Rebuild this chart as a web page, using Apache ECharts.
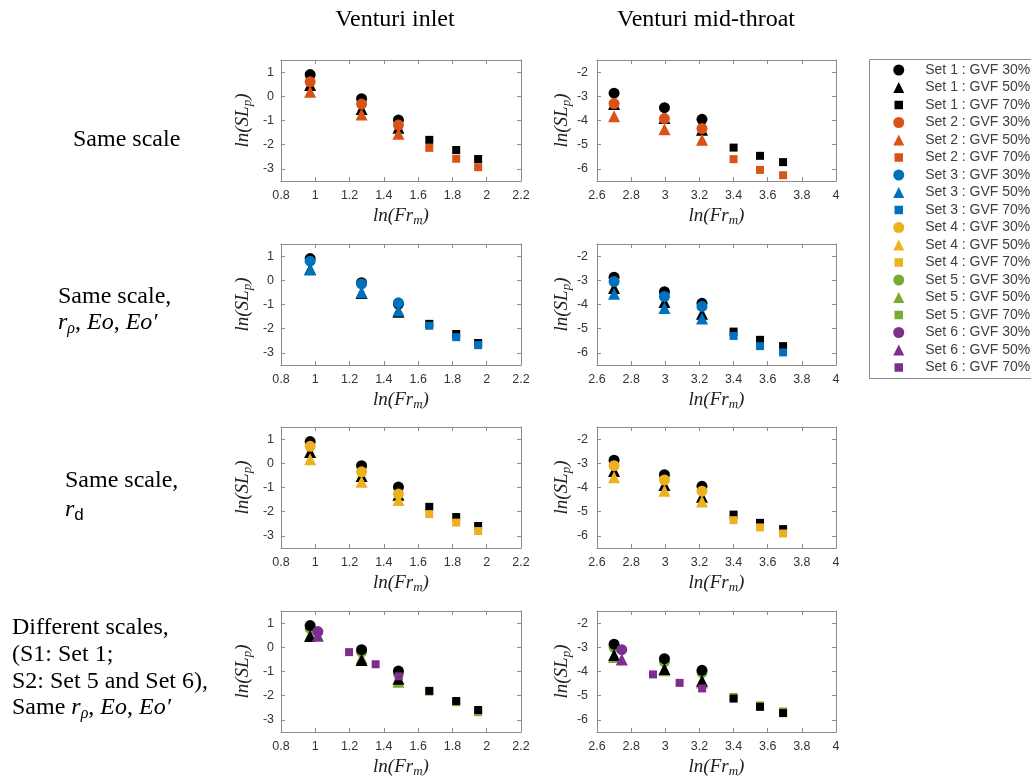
<!DOCTYPE html>
<html>
<head>
<meta charset="utf-8">
<title>ln(SLp) vs ln(Frm)</title>
<script src="https://cdn.jsdelivr.net/npm/echarts@6/dist/echarts.min.js"></script>
<style>
  html, body { margin: 0; padding: 0; background: #fff; }
  #chart { width: 1031px; height: 780px; }
</style>
</head>
<body>
<div id="chart"></div>
<script>
// ln(Fr_m) positions
const inletFr = [0.97, 1.27, 1.485];
const inletFr70 = [1.665, 1.822, 1.95];
const throatFr = [2.70, 2.995, 3.215];
const throatFr70 = [3.40, 3.555, 3.69];
const set6InletFr = [1.015];
const set6InletFr70 = [1.197, 1.352, 1.487];
const set6ThroatFr = [2.745];
const set6ThroatFr70 = [2.928, 3.084, 3.216];

// ln(SL_p) for each set: [GVF 30%, GVF 50%, GVF 70%]
const set1Inlet = [[0.9, -0.1, -0.98], [0.47, -0.52, -1.3], [-1.8, -2.22, -2.59]];
const set1Throat = [[-2.87, -3.47, -3.95], [-3.32, -3.9, -4.38], [-5.12, -5.46, -5.72]];
const set2Inlet = [[0.6, -0.32, -1.19], [0.19, -0.75, -1.55], [-2.13, -2.58, -2.93]];
const set2Throat = [[-3.3, -3.92, -4.33], [-3.82, -4.36, -4.8], [-5.6, -6.04, -6.26]];
const set3Inlet = [[0.79, -0.15, -0.93], [0.45, -0.49, -1.25], [-1.88, -2.35, -2.68]];
const set3Throat = [[-3.05, -3.67, -4.08], [-3.56, -4.14, -4.58], [-5.3, -5.72, -5.98]];
const set4Inlet = [[0.7, -0.35, -1.27], [0.17, -0.76, -1.52], [-2.1, -2.45, -2.8]];
const set4Throat = [[-3.1, -3.69, -4.15], [-3.58, -4.13, -4.58], [-5.35, -5.65, -5.9]];
const set5Inlet = [[0.78, -0.2, -1.1], [0.5, -0.45, -1.42], [-1.83, -2.27, -2.68]];
const set5Throat = [[-3.0, -3.6, -4.05], [-3.4, -3.95, -4.45], [-5.05, -5.4, -5.65]];
const set6Inlet = [[0.65], [0.48], [-0.2, -0.7, -1.2]];
const set6Throat = [[-3.1], [-3.5], [-4.12, -4.47, -4.7]];

const gvfLabels = ['30%', '50%', '70%'];
const columnTitles = ['Venturi inlet', 'Venturi mid-throat'];
// which sets are drawn in each row (drawing order)
const rowSets = [[1, 2], [1, 3], [1, 4], [5, 1, 6]];

const setColors = ['#000000', '#D95319', '#0072BD', '#EDB120', '#77AC30', '#7E2F8E'];
const gvfSymbols = ['circle', 'triangle', 'rect'];
const gvfSizes = [11, 12, 8];

const setValues = {
  1: [set1Inlet, set1Throat], 2: [set2Inlet, set2Throat], 3: [set3Inlet, set3Throat],
  4: [set4Inlet, set4Throat], 5: [set5Inlet, set5Throat], 6: [set6Inlet, set6Throat]
};

function frFor(set, col, g) {
  if (set === 6) {
    if (col === 0) return g === 2 ? set6InletFr70 : set6InletFr;
    return g === 2 ? set6ThroatFr70 : set6ThroatFr;
  }
  if (col === 0) return g === 2 ? inletFr70 : inletFr;
  return g === 2 ? throatFr70 : throatFr;
}

const chart = echarts.init(document.getElementById('chart'));

// layout
const colLeft = [281, 597];
const colWidth = [240, 239];
const rowTop = [60, 244, 427, 611];
const gridHeight = 121;
const xRange = [[0.8, 2.2], [2.6, 4]];
const yRange = [[-3.5, 1.5], [-6.5, -1.5]];
const axisColor = '#8c8c8c';
const serif = 'Liberation Serif';

const nameRich = {
  i: { fontFamily: serif, fontStyle: 'italic', fontSize: 19, color: '#222', lineHeight: 22 },
  s: { fontFamily: serif, fontStyle: 'italic', fontSize: 13, color: '#222', lineHeight: 9, verticalAlign: 'bottom' }
};

const grids = [], xAxes = [], yAxes = [], series = [];

rowSets.forEach((sets, r) => {
  [0, 1].forEach(c => {
    const gi = grids.length;
    grids.push({ left: colLeft[c], top: rowTop[r], width: colWidth[c], height: gridHeight });

    const tick = { inside: true, length: 4, lineStyle: { color: axisColor } };
    const line = { show: true, onZero: false, lineStyle: { color: axisColor } };
    const label = { color: '#333', fontSize: 12.5, fontFamily: 'Liberation Sans' };

    xAxes.push({
      gridIndex: gi, type: 'value', position: 'bottom',
      min: xRange[c][0], max: xRange[c][1], interval: 0.2,
      axisLine: line, axisTick: tick, splitLine: { show: false },
      axisLabel: Object.assign({ margin: 8 }, label),
      name: '{i|ln(Fr}{s|m}{i|)}', nameLocation: 'middle', nameGap: 24,
      nameTextStyle: { rich: nameRich }
    });
    xAxes.push({
      gridIndex: gi, type: 'value', position: 'top',
      min: xRange[c][0], max: xRange[c][1], interval: 0.2,
      axisLine: line, axisTick: tick, splitLine: { show: false },
      axisLabel: { show: false }
    });
    yAxes.push({
      gridIndex: gi, type: 'value', position: 'left',
      min: yRange[c][0], max: yRange[c][1], splitNumber: 5,
      axisLine: line, axisTick: tick, splitLine: { show: false },
      axisLabel: Object.assign({ margin: c === 0 ? 7 : 9, showMinLabel: false, showMaxLabel: false }, label),
      name: '{i|ln(SL}{s|p}{i|)}', nameLocation: 'middle', nameGap: c === 0 ? 27 : 24,
      nameTextStyle: { rich: nameRich }
    });
    yAxes.push({
      gridIndex: gi, type: 'value', position: 'right',
      min: yRange[c][0], max: yRange[c][1], splitNumber: 5,
      axisLine: line, axisTick: tick, splitLine: { show: false },
      axisLabel: { show: false }
    });

    sets.forEach(set => {
      const vals = setValues[set][c];
      [0, 1, 2].forEach(g => {
        const xs = frFor(set, c, g);
        series.push({
          type: 'scatter',
          name: 'Set ' + set + ' : GVF ' + gvfLabels[g],
          xAxisIndex: 2 * gi, yAxisIndex: 2 * gi,
          symbol: gvfSymbols[g], symbolSize: gvfSizes[g],
          itemStyle: { color: setColors[set - 1], opacity: 1 },
          data: vals[g].map((v, k) => [xs[k], v])
        });
      });
    });
  });
});

const legendData = [];
for (let s = 1; s <= 6; s++) {
  gvfLabels.forEach((gl, g) => {
    const item = { name: 'Set ' + s + ' : GVF ' + gl, icon: gvfSymbols[g] };
    if (g === 2) item.itemStyle = { borderColor: '#fff', borderWidth: 2.5 };
    legendData.push(item);
  });
}

const rowRich = {
  n: { fontFamily: serif, fontSize: 24, color: '#1a1a1a', lineHeight: 27 },
  i: { fontFamily: serif, fontStyle: 'italic', fontSize: 24, color: '#1a1a1a', lineHeight: 27 },
  sub: { fontFamily: serif, fontStyle: 'italic', fontSize: 16, color: '#1a1a1a', lineHeight: 11, verticalAlign: 'bottom' },
  subSans: { fontFamily: 'Liberation Sans', fontSize: 17, color: '#1a1a1a', lineHeight: 11, verticalAlign: 'bottom' }
};

function textAt(x, y, text, align) {
  return {
    type: 'text', x: x, y: y, silent: true,
    style: { text: text, rich: rowRich, align: align || 'left', verticalAlign: 'middle' }
  };
}

const graphics = [
  textAt(395, 20, '{n|' + columnTitles[0] + '}', 'center'),
  textAt(706, 20, '{n|' + columnTitles[1] + '}', 'center'),
  textAt(73, 140, '{n|Same scale}'),
  textAt(58, 297, '{n|Same scale,}'),
  textAt(58, 323, '{i|r}{sub|ρ}{n|, }{i|Eo}{n|, }{i|Eo′}'),
  textAt(65, 481, '{n|Same scale,}'),
  textAt(65, 510, '{i|r}{subSans|d}'),
  textAt(12, 628, '{n|Different scales,}'),
  textAt(12, 655, '{n|(S1: Set 1;}'),
  textAt(12, 682, '{n|S2: Set 5 and Set 6),}'),
  textAt(12, 708, '{n|Same }{i|r}{sub|ρ}{n|, }{i|Eo}{n|, }{i|Eo′}'),
  {
    type: 'rect', silent: true,
    shape: { x: 869.5, y: 59.5, width: 200, height: 319 },
    style: { fill: 'none', stroke: '#8c8c8c', lineWidth: 1 }
  }
];

chart.setOption({
  animation: false,
  backgroundColor: '#fff',
  grid: grids,
  xAxis: xAxes,
  yAxis: yAxes,
  series: series,
  legend: {
    orient: 'vertical', left: 887, top: 58,
    itemWidth: 11, itemHeight: 11, itemGap: 3.5,
    selectedMode: false,
    textStyle: { fontSize: 14, lineHeight: 11, color: '#404040', fontFamily: 'Liberation Sans', padding: [0, 0, 0, 16] },
    data: legendData
  },
  graphic: graphics
});
</script>
</body>
</html>
